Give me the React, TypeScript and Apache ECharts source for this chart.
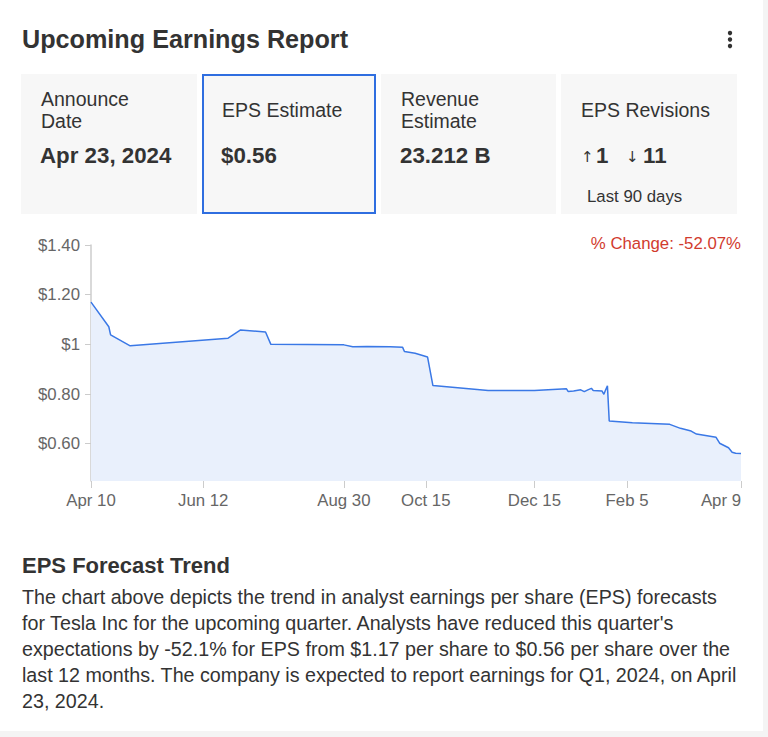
import React, { useEffect, useRef } from "react";
import * as echarts from "echarts";

const FONT = '"Liberation Sans", Arial, Helvetica, sans-serif';

const epsDates = [
  "2023-04-10", "2023-04-20", "2023-04-21", "2023-05-02", "2023-06-26", "2023-07-03",
  "2023-07-17", "2023-07-20", "2023-08-30", "2023-09-04", "2023-09-12", "2023-09-25",
  "2023-10-02", "2023-10-03", "2023-10-09", "2023-10-16", "2023-10-19", "2023-11-19",
  "2023-12-15", "2024-01-02", "2024-01-03", "2024-01-06", "2024-01-10", "2024-01-12",
  "2024-01-14", "2024-01-16", "2024-01-17", "2024-01-22", "2024-01-23", "2024-01-24",
  "2024-01-25", "2024-01-26", "2024-02-08", "2024-02-29", "2024-03-06", "2024-03-12",
  "2024-03-15", "2024-03-26", "2024-03-28", "2024-04-02", "2024-04-04", "2024-04-06",
  "2024-04-09",
];
const epsValues = [
  1.17, 1.071, 1.038, 0.994, 1.025, 1.058,
  1.05, 1.0, 0.998, 0.99, 0.991, 0.99,
  0.988, 0.971, 0.964, 0.949, 0.834, 0.814,
  0.814, 0.821, 0.81, 0.812, 0.817, 0.81,
  0.817, 0.823, 0.814, 0.812, 0.799, 0.817,
  0.833, 0.692, 0.684, 0.678, 0.662, 0.651,
  0.639, 0.626, 0.602, 0.584, 0.566, 0.562,
  0.561,
];

const xStart = "2023-04-10";
const xEnd = "2024-04-09";
const xTickDates = ["2023-04-10", "2023-06-12", "2023-08-30", "2023-10-15", "2023-12-15", "2024-02-05", "2024-04-09"];
const xTickLabels = ["Apr 10", "Jun 12", "Aug 30", "Oct 15", "Dec 15", "Feb 5", "Apr 9"];

const yMin = 0.45;
const yMax = 1.4;
const yTickValues = [0.6, 0.8, 1, 1.2, 1.4];
const yTickLabels = ["$0.60", "$0.80", "$1", "$1.20", "$1.40"];

const cardLabels = [["Announce", "Date"], ["EPS Estimate"], ["Revenue", "Estimate"], ["EPS Revisions"]];
const cardValues = ["Apr 23, 2024", "$0.56", "23.212 B", ""];
const revisionsUp = "1";
const revisionsDown = "11";
const revisionsNote = "Last 90 days";
const changeText = "% Change: -52.07%";
const titleText = "Upcoming Earnings Report";
const trendTitle = "EPS Forecast Trend";
const trendLines = [
  "The chart above depicts the trend in analyst earnings per share (EPS) forecasts",
  "for Tesla Inc for the upcoming quarter. Analysts have reduced this quarter's",
  "expectations by -52.1% for EPS from $1.17 per share to $0.56 per share over the",
  "last 12 months. The company is expected to report earnings for Q1, 2024, on April",
  "23, 2024.",
];

const DAY = 86400000;
const dayNum = (s: string) => {
  const [y, m, d] = s.split("-").map(Number);
  return Date.UTC(y, m - 1, d) / DAY;
};

function txt(x: number, y: number, text: string, size: number, opts: any = {}) {
  return {
    type: "text",
    x,
    y,
    silent: true,
    style: {
      text,
      fontFamily: opts.family || FONT,
      fontSize: size,
      fontWeight: opts.bold ? "bold" : "normal",
      fill: opts.color || "#333333",
      align: opts.align || "left",
      verticalAlign: "middle",
    },
  };
}

export default function App() {
  const ref = useRef<HTMLDivElement>(null);

  useEffect(() => {
    if (!ref.current) return;
    const chart = echarts.init(ref.current, undefined, { renderer: "svg" });

    const cardX = [21, 202, 381, 561];
    const cardW = [176, 174, 175, 176];
    const graphics: any[] = [];

    graphics.push({ type: "rect", shape: { x: 763, y: 0, width: 5, height: 737 }, style: { fill: "#f4f4f4" }, silent: true });
    graphics.push({ type: "rect", shape: { x: 0, y: 731, width: 768, height: 6 }, style: { fill: "#f4f4f4" }, silent: true });

    graphics.push(txt(22, 39, titleText, 25.2, { bold: true }));
    [33, 39.5, 46].forEach((cy) =>
      graphics.push({ type: "circle", shape: { cx: 730, cy, r: 2.2 }, style: { fill: "#333333" }, silent: true })
    );

    cardX.forEach((cx, i) => {
      if (i === 1) {
        graphics.push({
          type: "rect",
          shape: { x: cx + 1, y: 75, width: cardW[i] - 2, height: 138 },
          style: { fill: "#f7f7f7", stroke: "#2f6ee0", lineWidth: 2 },
          silent: true,
        });
      } else {
        graphics.push({
          type: "rect",
          shape: { x: cx, y: 74, width: cardW[i], height: 140 },
          style: { fill: "#f7f7f7" },
          silent: true,
        });
      }
      const lx = cx + 20;
      const lines = cardLabels[i];
      if (lines.length === 2) {
        graphics.push(txt(lx, 99, lines[0], 19.5));
        graphics.push(txt(lx, 121, lines[1], 19.5));
      } else {
        graphics.push(txt(lx, 110, lines[0], 19.5));
      }
      if (cardValues[i]) graphics.push(txt(lx - 1, 155, cardValues[i], 22.3, { bold: true }));
    });

    const arrowFont = '"DejaVu Sans", sans-serif';
    graphics.push(txt(581, 157, "↑", 15, { family: arrowFont }));
    graphics.push(txt(596, 155, revisionsUp, 22.3, { bold: true }));
    graphics.push(txt(626, 157, "↓", 15, { family: arrowFont }));
    graphics.push(txt(643, 155, revisionsDown, 22.3, { bold: true }));
    graphics.push(txt(587, 196, revisionsNote, 16.8));

    graphics.push(txt(741, 243, changeText, 16.8, { color: "#d13b2e", align: "right" }));

    graphics.push(txt(22, 565, trendTitle, 22, { bold: true }));
    trendLines.forEach((l, i) => graphics.push(txt(22, 597 + i * 26, l, 19.7)));

    const tickDays = xTickDates.map(dayNum);

    chart.setOption({
      animation: false,
      backgroundColor: "#ffffff",
      textStyle: { fontFamily: FONT },
      grid: { left: 91, right: 27, top: 245, bottom: 256, containLabel: false },
      xAxis: {
        type: "value",
        min: dayNum(xStart),
        max: dayNum(xEnd),
        axisLine: { show: false },
        axisTick: { show: true, length: 7, lineStyle: { color: "#cccccc" }, customValues: tickDays },
        splitLine: { show: false },
        axisLabel: {
          customValues: tickDays,
          color: "#666666",
          fontSize: 16.8,
          fontFamily: FONT,
          margin: 11,
          alignMaxLabel: "right",
          formatter: (v: number) => {
            const idx = tickDays.findIndex((t) => Math.abs(t - v) < 1e-6);
            return idx >= 0 ? xTickLabels[idx] : "";
          },
        },
      },
      yAxis: {
        type: "value",
        min: yMin,
        max: yMax,
        axisLine: { show: true, lineStyle: { color: "#cccccc", width: 1.5 } },
        axisTick: { show: true, length: 6, lineStyle: { color: "#cccccc" }, customValues: yTickValues },
        splitLine: { show: false },
        axisLabel: {
          customValues: yTickValues,
          color: "#666666",
          fontSize: 16.8,
          fontFamily: FONT,
          margin: 11,
          formatter: (v: number) => {
            const idx = yTickValues.findIndex((t) => Math.abs(t - v) < 1e-6);
            return idx >= 0 ? yTickLabels[idx] : "";
          },
        },
      },
      series: [
        {
          type: "line",
          data: epsDates.map((d, i) => [dayNum(d), epsValues[i]]),
          showSymbol: false,
          symbol: "none",
          lineStyle: { color: "#3a78e6", width: 1.5 },
          areaStyle: { color: "#e9f0fc", opacity: 1, origin: "start" },
        },
      ],
      graphic: graphics,
    });

    return () => chart.dispose();
  }, []);

  return (
    <div
      ref={ref}
      style={{ position: "fixed", left: 0, top: 0, width: 768, height: 737, background: "#ffffff" }}
    />
  );
}
